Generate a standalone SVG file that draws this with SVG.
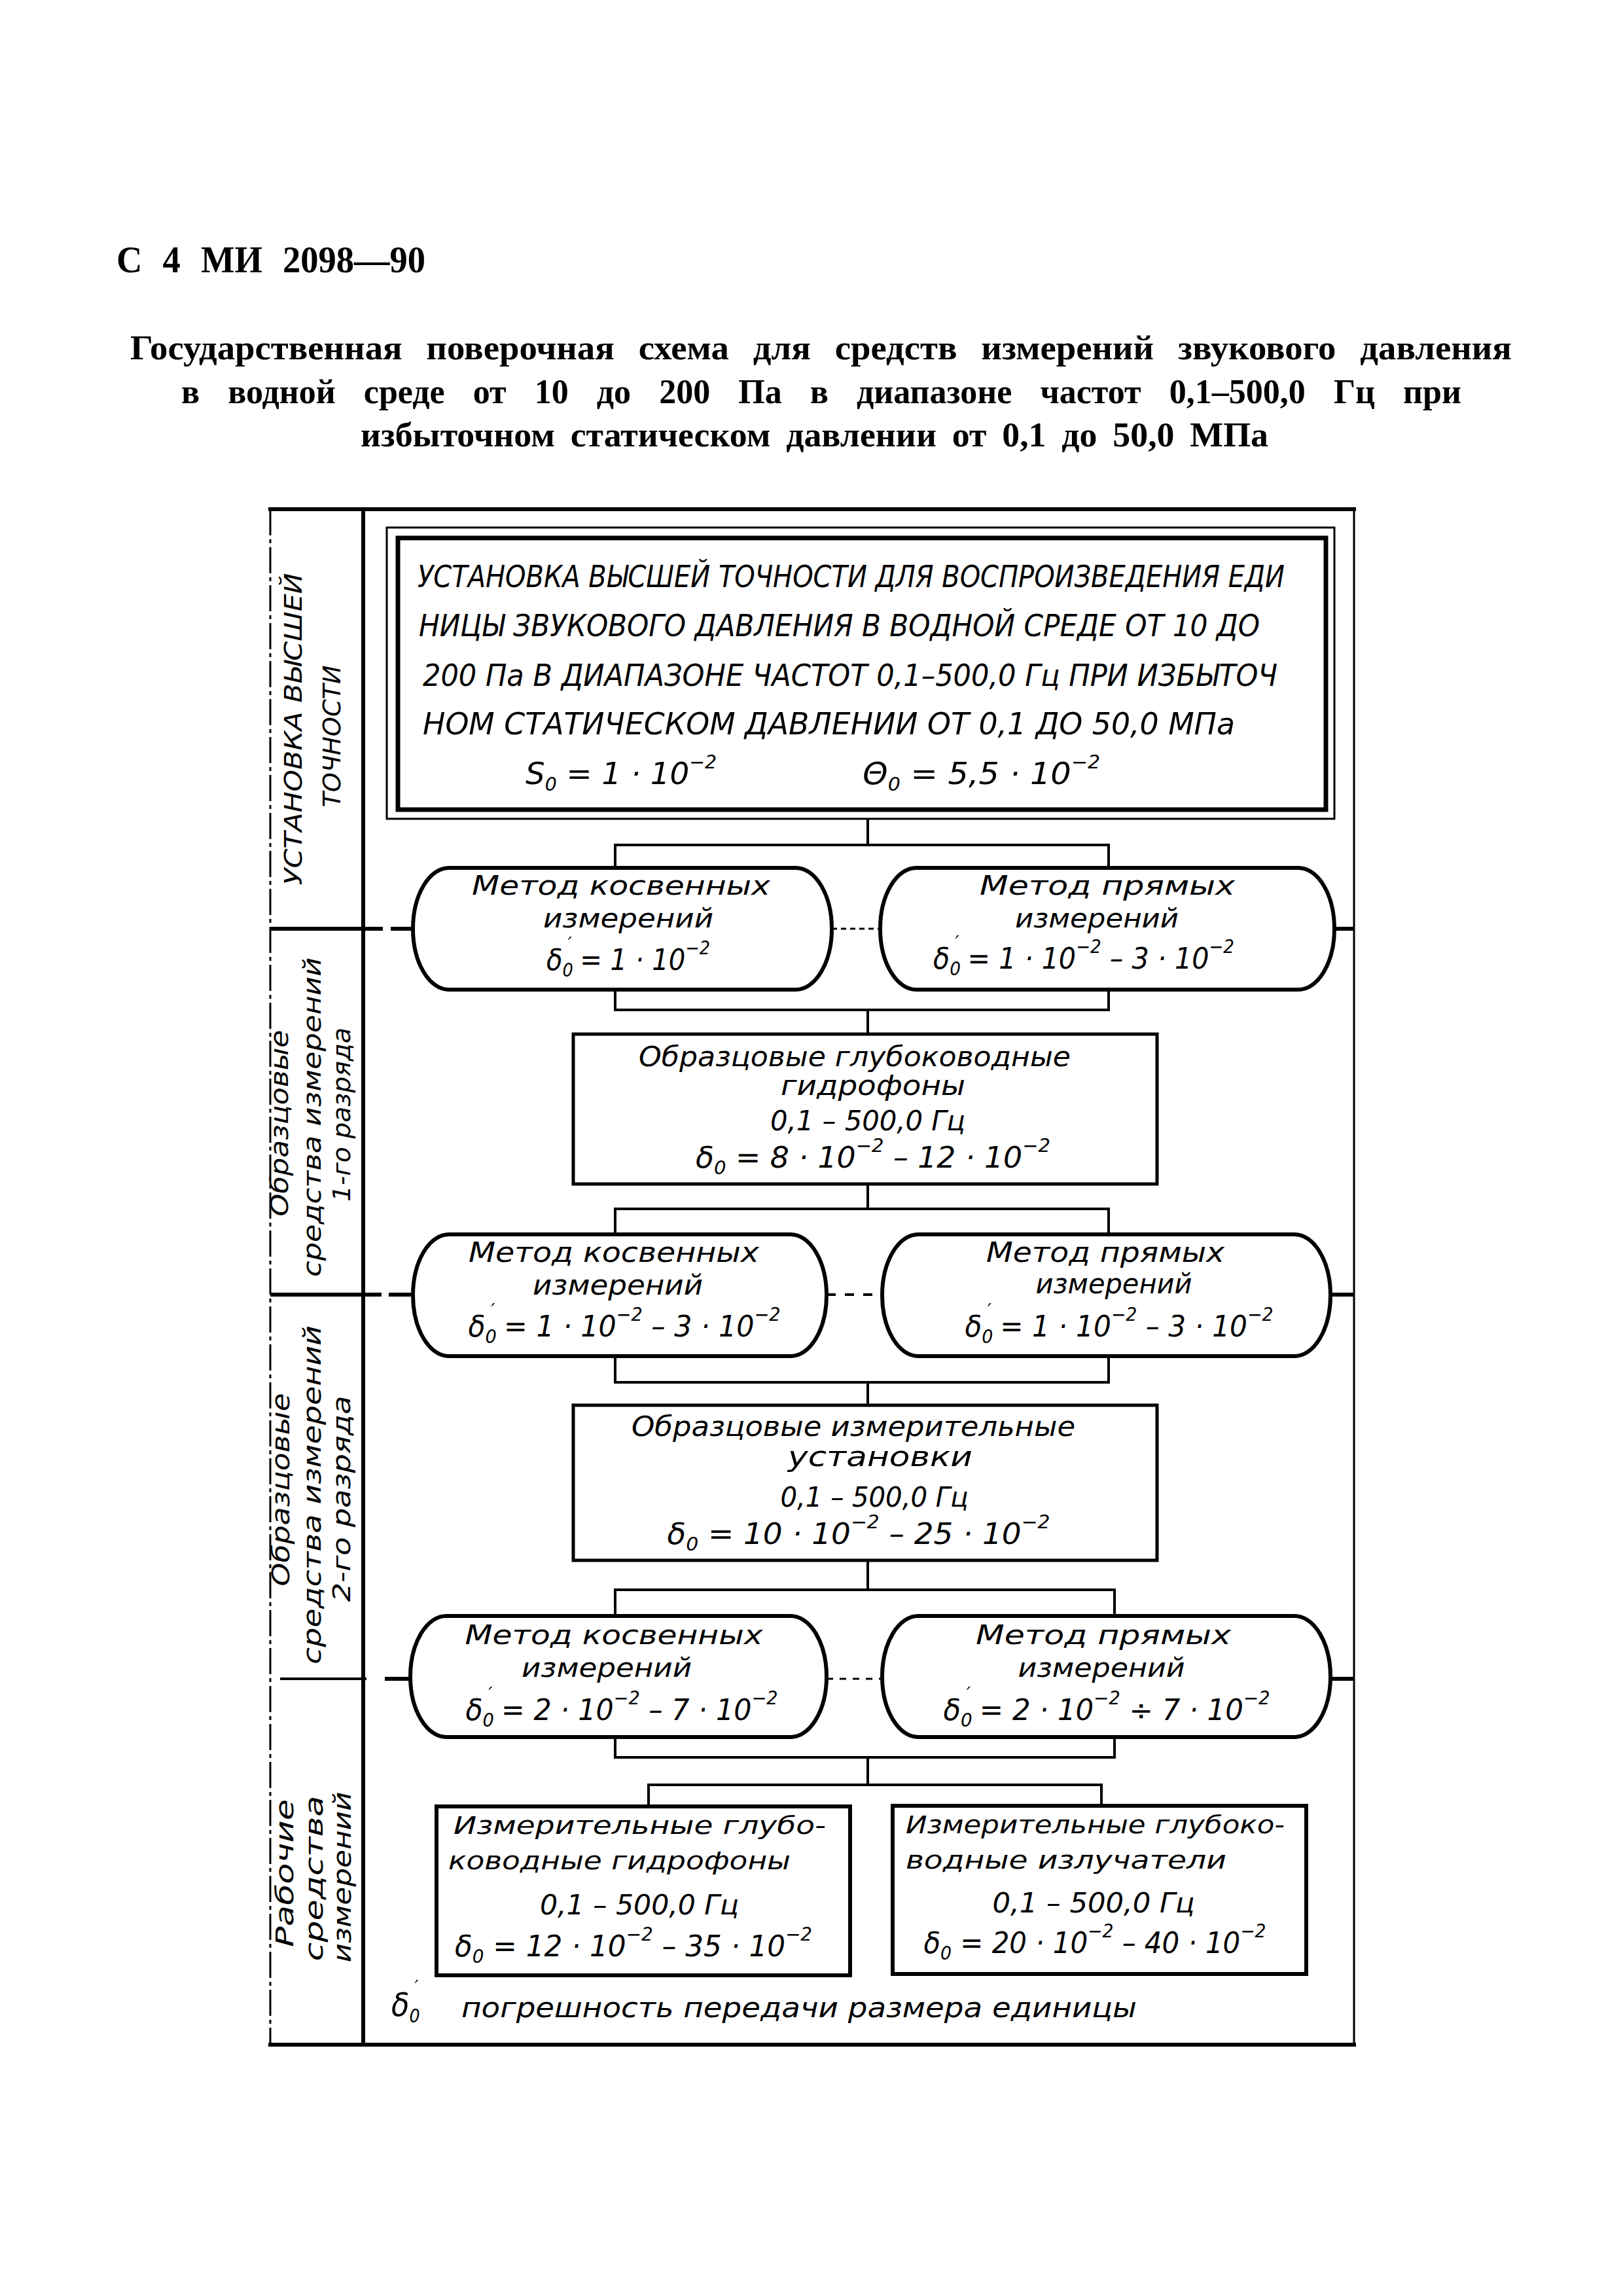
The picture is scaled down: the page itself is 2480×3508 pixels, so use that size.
<svg xmlns="http://www.w3.org/2000/svg" width="2480" height="3508" viewBox="0 0 2480 3508">
<style>
  .hd { font-family: "Liberation Serif", "DejaVu Serif", serif; font-weight: bold; font-size: 56px; fill: #000; }
  .ti { font-family: "Liberation Serif", "DejaVu Serif", serif; font-weight: bold; font-size: 52px; fill: #000; }
  .it { font-family: "Liberation Sans Narrow", "DejaVu Sans Condensed", "Liberation Sans", sans-serif; font-style: italic; fill: #000; }
  .f46 { font-size: 46px; }
  .f44 { font-size: 44px; }
  .f42 { font-size: 42px; }
  .f40 { font-size: 40px; }
  .f38 { font-size: 38px; }
  .s { font-size: 28px; }
  .ln { stroke: #000; fill: none; stroke-width: 4; }
  .th { stroke: #000; fill: none; stroke-width: 6; }
  .node { stroke: #000; fill: #fff; stroke-width: 6; }
  .box { stroke: #000; fill: #fff; stroke-width: 5; }
</style>

<!-- header and title -->
<g id="header">
  <text class="hd" x="178" y="416" textLength="472" lengthAdjust="spacingAndGlyphs" word-spacing="18">С 4 МИ 2098—90</text>
  <text class="ti" x="199" y="549" textLength="2111" lengthAdjust="spacingAndGlyphs" word-spacing="22">Государственная поверочная схема для средств измерений звукового давления</text>
  <text class="ti" x="277" y="616" textLength="1956" lengthAdjust="spacingAndGlyphs" word-spacing="30">в водной среде от 10 до 200 Па в диапазоне частот 0,1–500,0 Гц при</text>
  <text class="ti" x="551" y="682" textLength="1387" lengthAdjust="spacingAndGlyphs" word-spacing="10">избыточном статическом давлении от 0,1 до 50,0 МПа</text>
</g>

<!-- frame and level column -->
<g id="frame">
  <line class="th" x1="410" y1="778" x2="2072" y2="778"/>
  <line class="th" x1="410" y1="3124" x2="2072" y2="3124"/>
  <line x1="413" y1="778" x2="413" y2="3124" stroke="#000" stroke-width="3" stroke-dasharray="40 6 6 6"/>
  <line x1="2069" y1="778" x2="2069" y2="3124" stroke="#000" stroke-width="3"/>
  <line class="th" x1="555" y1="778" x2="555" y2="3124"/>
  <!-- level separators -->
  <line class="th" x1="413" y1="1419" x2="585" y2="1419"/>
  <line class="th" x1="597" y1="1419" x2="628" y2="1419"/>
  <line x1="1271" y1="1419" x2="1345" y2="1419" stroke="#000" stroke-width="3" stroke-dasharray="8 6"/>
  <line class="th" x1="2039" y1="1419" x2="2069" y2="1419"/>
  <line class="th" x1="413" y1="1978" x2="583" y2="1978"/>
  <line class="th" x1="594" y1="1978" x2="628" y2="1978"/>
  <line x1="1263" y1="1978" x2="1348" y2="1978" stroke="#000" stroke-width="4" stroke-dasharray="14 14"/>
  <line class="th" x1="2033" y1="1978" x2="2069" y2="1978"/>
  <line x1="428" y1="2565" x2="560" y2="2565" stroke="#000" stroke-width="4"/>
  <line class="th" x1="588" y1="2565" x2="626" y2="2565"/>
  <line x1="1263" y1="2565" x2="1348" y2="2565" stroke="#000" stroke-width="3" stroke-dasharray="10 10"/>
  <line class="th" x1="2033" y1="2565" x2="2069" y2="2565"/>
</g>

<g id="levels">
  <g id="level-1">
    <text class="it f38" transform="translate(461,1114) rotate(-90)" text-anchor="middle" textLength="477" lengthAdjust="spacingAndGlyphs">УСТАНОВКА  ВЫСШЕЙ</text>
    <text class="it f38" transform="translate(520,1125) rotate(-90)" text-anchor="middle" textLength="217" lengthAdjust="spacingAndGlyphs">ТОЧНОСТИ</text>
  </g>
  <g id="level-2">
    <text class="it f38" transform="translate(440,1716) rotate(-90)" text-anchor="middle" textLength="285" lengthAdjust="spacingAndGlyphs">Образцовые</text>
    <text class="it f38" transform="translate(490,1707) rotate(-90)" text-anchor="middle" textLength="488" lengthAdjust="spacingAndGlyphs">средства измерений</text>
    <text class="it f38" transform="translate(535,1703) rotate(-90)" text-anchor="middle" textLength="266" lengthAdjust="spacingAndGlyphs">1-го разряда</text>
  </g>
  <g id="level-3">
    <text class="it f38" transform="translate(442,2276) rotate(-90)" text-anchor="middle" textLength="295" lengthAdjust="spacingAndGlyphs">Образцовые</text>
    <text class="it f38" transform="translate(490,2284) rotate(-90)" text-anchor="middle" textLength="518" lengthAdjust="spacingAndGlyphs">средства измерений</text>
    <text class="it f38" transform="translate(535,2290) rotate(-90)" text-anchor="middle" textLength="315" lengthAdjust="spacingAndGlyphs">2-го разряда</text>
  </g>
  <g id="level-4">
    <text class="it f38" transform="translate(448,2862) rotate(-90)" text-anchor="middle" textLength="226" lengthAdjust="spacingAndGlyphs">Рабочие</text>
    <text class="it f38" transform="translate(493,2870) rotate(-90)" text-anchor="middle" textLength="253" lengthAdjust="spacingAndGlyphs">средства</text>
    <text class="it f38" transform="translate(536,2868) rotate(-90)" text-anchor="middle" textLength="261" lengthAdjust="spacingAndGlyphs">измерений</text>
  </g>
</g>

<!-- connectors -->
<g id="connectors" class="ln">
  <polyline points="1326,1251 1326,1291"/>
  <polyline points="940,1326 940,1291 1694,1291 1694,1326"/>
  <polyline points="940,1512 940,1543 1694,1543 1694,1512"/>
  <polyline points="1326,1543 1326,1580"/>
  <polyline points="1326,1809 1326,1847"/>
  <polyline points="940,1886 940,1847 1694,1847 1694,1886"/>
  <polyline points="940,2072 940,2112 1694,2112 1694,2072"/>
  <polyline points="1326,2112 1326,2147"/>
  <polyline points="1326,2384 1326,2429"/>
  <polyline points="940,2469 940,2429 1703,2429 1703,2469"/>
  <polyline points="940,2654 940,2685 1703,2685 1703,2654"/>
  <polyline points="1326,2685 1326,2727"/>
  <polyline points="991,2760 991,2727 1683,2727 1683,2758"/>
</g>

<!-- top node -->
<g id="n-standard">
  <rect x="591" y="806" width="1448" height="445" fill="#fff" stroke="#000" stroke-width="3"/>
  <rect x="608" y="822" width="1418" height="415" fill="none" stroke="#000" stroke-width="7"/>
  <text class="it f46" x="638" y="897" textLength="1325" lengthAdjust="spacingAndGlyphs">УСТАНОВКА ВЫСШЕЙ ТОЧНОСТИ ДЛЯ ВОСПРОИЗВЕДЕНИЯ ЕДИ</text>
  <text class="it f46" x="640" y="972" textLength="1285" lengthAdjust="spacingAndGlyphs">НИЦЫ ЗВУКОВОГО ДАВЛЕНИЯ В ВОДНОЙ СРЕДЕ  ОТ 10 ДО</text>
  <text class="it f46" x="646" y="1048" textLength="1306" lengthAdjust="spacingAndGlyphs">200 Па В ДИАПАЗОНЕ ЧАСТОТ 0,1–500,0 Гц ПРИ ИЗБЫТОЧ</text>
  <text class="it f46" x="646" y="1122" textLength="1241" lengthAdjust="spacingAndGlyphs">НОМ СТАТИЧЕСКОМ ДАВЛЕНИИ  ОТ  0,1  ДО  50,0 МПа</text>
  <text class="it f46" x="803" y="1198" textLength="292" lengthAdjust="spacingAndGlyphs">S<tspan class="s" dy="10">0</tspan><tspan dy="-10"> = 1 · 10</tspan><tspan class="s" dy="-24">−2</tspan></text>
  <text class="it f46" x="1318" y="1198" textLength="363" lengthAdjust="spacingAndGlyphs">Θ<tspan class="s" dy="10">0</tspan><tspan dy="-10"> = 5,5 · 10</tspan><tspan class="s" dy="-24">−2</tspan></text>
</g>

<!-- row 1 -->
<g id="n-indirect-1">
  <path class="node" d="M 686 1326 H 1216 A 55 93 0 0 1 1216 1512 H 686 A 55 93 0 0 1 686 1326 Z"/>
  <text class="it f40" x="949" y="1367" text-anchor="middle" textLength="456" lengthAdjust="spacingAndGlyphs">Метод косвенных</text>
  <text class="it f40" x="960" y="1417" text-anchor="middle" textLength="260" lengthAdjust="spacingAndGlyphs">измерений</text>
  <text class="it f44" x="960" y="1482" text-anchor="middle" textLength="250" lengthAdjust="spacingAndGlyphs">δ<tspan class="s" dy="10">0</tspan><tspan class="s" dx="-8" dy="-40">′</tspan><tspan dy="30"> = 1 · 10</tspan><tspan class="s" dy="-24">−2</tspan></text>
</g>
<g id="n-direct-1">
  <path class="node" d="M 1400 1326 H 1984 A 55 93 0 0 1 1984 1512 H 1400 A 55 93 0 0 1 1400 1326 Z"/>
  <text class="it f40" x="1692" y="1367" text-anchor="middle" textLength="390" lengthAdjust="spacingAndGlyphs">Метод прямых</text>
  <text class="it f40" x="1676" y="1417" text-anchor="middle" textLength="250" lengthAdjust="spacingAndGlyphs">измерений</text>
  <text class="it f44" x="1656" y="1480" text-anchor="middle" textLength="460" lengthAdjust="spacingAndGlyphs">δ<tspan class="s" dy="10">0</tspan><tspan class="s" dx="-8" dy="-40">′</tspan><tspan dy="30"> = 1 · 10</tspan><tspan class="s" dy="-24">−2</tspan><tspan dy="24"> – 3 · 10</tspan><tspan class="s" dy="-24">−2</tspan></text>
</g>

<!-- box 2 -->
<g id="n-hydrophones-1">
  <rect class="box" x="876" y="1580" width="892" height="229"/>
  <text class="it f42" x="1306" y="1629" text-anchor="middle" textLength="660" lengthAdjust="spacingAndGlyphs">Образцовые глубоководные</text>
  <text class="it f42" x="1334" y="1673" text-anchor="middle" textLength="282" lengthAdjust="spacingAndGlyphs">гидрофоны</text>
  <text class="it f42" x="1326" y="1727" text-anchor="middle" textLength="298" lengthAdjust="spacingAndGlyphs">0,1 – 500,0 Гц</text>
  <text class="it f44" x="1334" y="1784" text-anchor="middle" textLength="542" lengthAdjust="spacingAndGlyphs">δ<tspan class="s" dy="10">0</tspan><tspan dy="-10"> = 8 · 10</tspan><tspan class="s" dy="-24">−2</tspan><tspan dy="24"> – 12 · 10</tspan><tspan class="s" dy="-24">−2</tspan></text>
</g>

<!-- row 2 -->
<g id="n-indirect-2">
  <path class="node" d="M 686 1886 H 1208 A 55 93 0 0 1 1208 2072 H 686 A 55 93 0 0 1 686 1886 Z"/>
  <text class="it f42" x="938" y="1928" text-anchor="middle" textLength="444" lengthAdjust="spacingAndGlyphs">Метод косвенных</text>
  <text class="it f42" x="944" y="1978" text-anchor="middle" textLength="260" lengthAdjust="spacingAndGlyphs">измерений</text>
  <text class="it f44" x="954" y="2042" text-anchor="middle" textLength="477" lengthAdjust="spacingAndGlyphs">δ<tspan class="s" dy="10">0</tspan><tspan class="s" dx="-8" dy="-40">′</tspan><tspan dy="30"> = 1 · 10</tspan><tspan class="s" dy="-24">−2</tspan><tspan dy="24"> – 3 · 10</tspan><tspan class="s" dy="-24">−2</tspan></text>
</g>
<g id="n-direct-2">
  <path class="node" d="M 1403 1886 H 1978 A 55 93 0 0 1 1978 2072 H 1403 A 55 93 0 0 1 1403 1886 Z"/>
  <text class="it f42" x="1689" y="1928" text-anchor="middle" textLength="364" lengthAdjust="spacingAndGlyphs">Метод прямых</text>
  <text class="it f42" x="1702" y="1976" text-anchor="middle" textLength="239" lengthAdjust="spacingAndGlyphs">измерений</text>
  <text class="it f44" x="1710" y="2042" text-anchor="middle" textLength="471" lengthAdjust="spacingAndGlyphs">δ<tspan class="s" dy="10">0</tspan><tspan class="s" dx="-8" dy="-40">′</tspan><tspan dy="30"> = 1 · 10</tspan><tspan class="s" dy="-24">−2</tspan><tspan dy="24"> – 3 · 10</tspan><tspan class="s" dy="-24">−2</tspan></text>
</g>

<!-- box 3 -->
<g id="n-installations-2">
  <rect class="box" x="876" y="2147" width="892" height="237"/>
  <text class="it f42" x="1304" y="2194" text-anchor="middle" textLength="678" lengthAdjust="spacingAndGlyphs">Образцовые измерительные</text>
  <text class="it f42" x="1345" y="2240" text-anchor="middle" textLength="282" lengthAdjust="spacingAndGlyphs">установки</text>
  <text class="it f42" x="1336" y="2302" text-anchor="middle" textLength="287" lengthAdjust="spacingAndGlyphs">0,1 – 500,0 Гц</text>
  <text class="it f44" x="1312" y="2359" text-anchor="middle" textLength="585" lengthAdjust="spacingAndGlyphs">δ<tspan class="s" dy="10">0</tspan><tspan dy="-10"> = 10 · 10</tspan><tspan class="s" dy="-24">−2</tspan><tspan dy="24"> – 25 · 10</tspan><tspan class="s" dy="-24">−2</tspan></text>
</g>

<!-- row 3 -->
<g id="n-indirect-3">
  <path class="node" d="M 682 2469 H 1208 A 55 92.5 0 0 1 1208 2654 H 682 A 55 92.5 0 0 1 682 2469 Z"/>
  <text class="it f40" x="938" y="2512" text-anchor="middle" textLength="455" lengthAdjust="spacingAndGlyphs">Метод косвенных</text>
  <text class="it f40" x="927" y="2562" text-anchor="middle" textLength="260" lengthAdjust="spacingAndGlyphs">измерений</text>
  <text class="it f44" x="950" y="2628" text-anchor="middle" textLength="477" lengthAdjust="spacingAndGlyphs">δ<tspan class="s" dy="10">0</tspan><tspan class="s" dx="-8" dy="-40">′</tspan><tspan dy="30"> = 2 · 10</tspan><tspan class="s" dy="-24">−2</tspan><tspan dy="24"> – 7 · 10</tspan><tspan class="s" dy="-24">−2</tspan></text>
</g>
<g id="n-direct-3">
  <path class="node" d="M 1403 2469 H 1978 A 55 92.5 0 0 1 1978 2654 H 1403 A 55 92.5 0 0 1 1403 2469 Z"/>
  <text class="it f40" x="1686" y="2512" text-anchor="middle" textLength="390" lengthAdjust="spacingAndGlyphs">Метод прямых</text>
  <text class="it f40" x="1683" y="2562" text-anchor="middle" textLength="255" lengthAdjust="spacingAndGlyphs">измерений</text>
  <text class="it f44" x="1691" y="2628" text-anchor="middle" textLength="499" lengthAdjust="spacingAndGlyphs">δ<tspan class="s" dy="10">0</tspan><tspan class="s" dx="-8" dy="-40">′</tspan><tspan dy="30"> = 2 · 10</tspan><tspan class="s" dy="-24">−2</tspan><tspan dy="24"> ÷ 7 · 10</tspan><tspan class="s" dy="-24">−2</tspan></text>
</g>

<!-- working instruments -->
<g id="n-hydrophones-w">
  <rect class="node" x="667" y="2760" width="632" height="258"/>
  <text class="it f38" x="693" y="2802" textLength="569" lengthAdjust="spacingAndGlyphs">Измерительные глубо-</text>
  <text class="it f38" x="685" y="2856" textLength="523" lengthAdjust="spacingAndGlyphs">ководные  гидрофоны</text>
  <text class="it f42" x="977" y="2925" text-anchor="middle" textLength="304" lengthAdjust="spacingAndGlyphs">0,1 – 500,0 Гц</text>
  <text class="it f44" x="695" y="2989" textLength="546" lengthAdjust="spacingAndGlyphs">δ<tspan class="s" dy="10">0</tspan><tspan dy="-10"> = 12 · 10</tspan><tspan class="s" dy="-24">−2</tspan><tspan dy="24"> – 35 · 10</tspan><tspan class="s" dy="-24">−2</tspan></text>
</g>
<g id="n-emitters-w">
  <rect class="node" x="1364" y="2759" width="632" height="257"/>
  <text class="it f38" x="1384" y="2801" textLength="579" lengthAdjust="spacingAndGlyphs">Измерительные глубоко-</text>
  <text class="it f38" x="1384" y="2855" textLength="490" lengthAdjust="spacingAndGlyphs">водные  излучатели</text>
  <text class="it f42" x="1671" y="2922" text-anchor="middle" textLength="309" lengthAdjust="spacingAndGlyphs">0,1 – 500,0 Гц</text>
  <text class="it f44" x="1673" y="2984" text-anchor="middle" textLength="523" lengthAdjust="spacingAndGlyphs">δ<tspan class="s" dy="10">0</tspan><tspan dy="-10"> = 20 · 10</tspan><tspan class="s" dy="-24">−2</tspan><tspan dy="24"> – 40 · 10</tspan><tspan class="s" dy="-24">−2</tspan></text>
</g>

<!-- legend -->
<g id="legend">
  <text class="it" font-size="50" x="598" y="3080">δ<tspan class="s" dy="10">0</tspan><tspan class="s" dx="-8" dy="-44">′</tspan></text>
  <text class="it f42" x="705" y="3082" textLength="1032" lengthAdjust="spacingAndGlyphs">погрешность передачи размера единицы</text>
</g>
</svg>
